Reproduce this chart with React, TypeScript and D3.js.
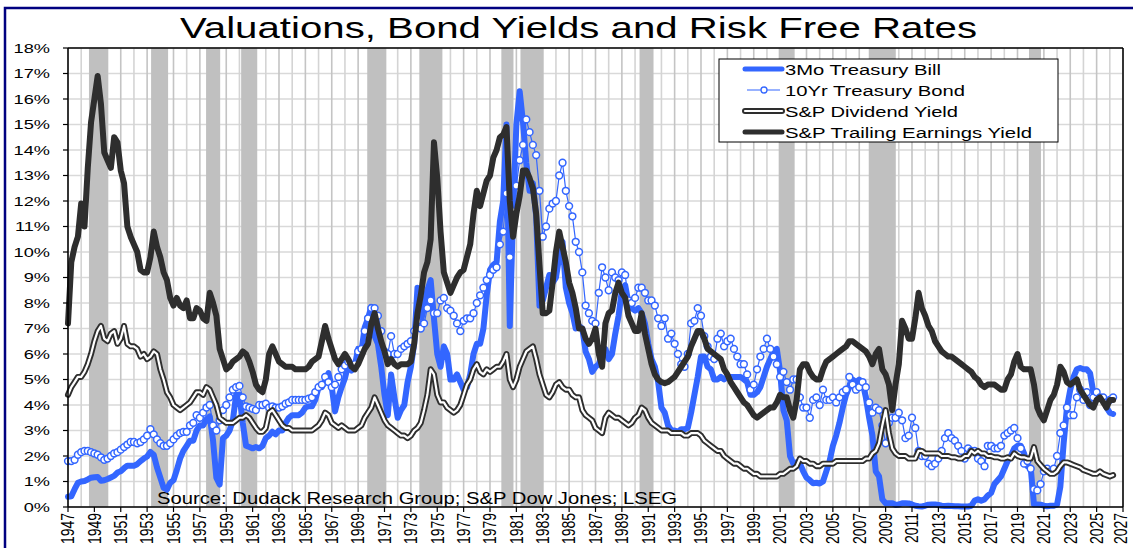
import React from 'react';
import * as d3 from 'd3';

// Quarterly observations starting 1947 Q1
const START_YEAR = 1947;
const STEP = 0.25;

const tbill3m = [
  0.40, 0.42, 0.70, 0.95, 1.00, 1.02, 1.08, 1.15, 1.17, 1.18, 1.03, 1.05,
  1.10, 1.16, 1.22, 1.35, 1.40, 1.52, 1.62, 1.62, 1.62, 1.68, 1.80, 1.90,
  1.98, 2.16, 2.05, 1.55, 1.15, 0.75, 0.68, 0.95, 1.05, 1.45, 1.90, 2.20,
  2.40, 2.60, 2.60, 3.00, 3.20, 3.20, 3.45, 3.55, 2.60, 1.15, 0.88, 2.70,
  2.80, 3.00, 3.40, 4.40, 4.40, 3.30, 2.40, 2.35, 2.30, 2.35, 2.30, 2.40,
  2.70, 2.80, 2.95, 2.85, 3.00, 3.00, 3.30, 3.50, 3.60, 3.60, 3.60, 3.70,
  3.90, 3.95, 3.95, 4.20, 4.70, 4.70, 4.95, 5.25, 4.70, 3.75, 4.30, 4.70,
  5.05, 5.60, 5.35, 5.55, 6.20, 6.10, 7.05, 7.40, 7.85, 6.70, 6.40, 5.50,
  4.40, 3.60, 5.20, 4.30, 3.50, 3.80, 4.00, 4.90, 5.50, 6.40, 8.60, 7.30,
  7.80, 8.50, 8.90, 7.40, 6.00, 5.50, 6.30, 6.00, 5.00, 5.00, 5.20, 4.90,
  4.60, 4.70, 5.20, 6.00, 6.40, 6.40, 7.00, 8.30, 9.30, 9.50, 9.60, 11.20,
  12.00, 15.00, 7.10, 11.50, 15.00, 16.30, 15.10, 13.50, 12.40, 12.70, 11.40, 7.90,
  8.10, 8.60, 9.10, 8.80, 9.00, 9.80, 10.40, 8.60, 8.00, 7.60, 7.00, 7.10,
  7.00, 6.10, 5.80, 5.30, 5.50, 5.60, 6.00, 6.20, 5.80, 6.00, 6.80, 7.50,
  8.50, 8.70, 8.00, 7.80, 7.70, 7.80, 7.60, 7.20, 6.40, 5.80, 5.50, 4.90,
  3.90, 3.70, 3.20, 3.00, 3.00, 2.95, 3.05, 3.05, 3.10, 3.70, 4.40, 5.10,
  5.90, 5.90, 5.50, 5.40, 5.00, 5.00, 5.10, 5.00, 5.10, 5.10, 5.10, 5.10,
  5.10, 5.00, 4.90, 4.40, 4.40, 4.50, 4.70, 5.10, 5.50, 5.80, 6.10, 6.20,
  5.30, 3.80, 3.40, 2.00, 1.70, 1.75, 1.70, 1.40, 1.15, 1.05, 0.93, 0.95,
  0.92, 1.00, 1.40, 1.80, 2.40, 2.80, 3.30, 3.90, 4.40, 4.70, 5.00, 4.90,
  5.00, 4.90, 4.30, 3.50, 2.80, 1.40, 1.20, 0.30, 0.15, 0.15, 0.15, 0.08,
  0.10, 0.15, 0.15, 0.14, 0.10, 0.05, 0.03, 0.02, 0.05, 0.09, 0.10, 0.10,
  0.08, 0.05, 0.04, 0.05, 0.04, 0.03, 0.03, 0.02, 0.02, 0.02, 0.05, 0.25,
  0.30, 0.25, 0.30, 0.45, 0.55, 0.90, 1.05, 1.20, 1.50, 1.80, 2.00, 2.30,
  2.40, 2.40, 2.10, 1.60, 1.55, 0.10, 0.10, 0.09, 0.05, 0.03, 0.05, 0.05,
  0.10, 0.80, 2.50, 3.90, 4.60, 5.10, 5.40, 5.45, 5.40, 5.40, 5.25, 4.50,
  4.30, 4.30, 4.30, 3.90, 3.70, 3.65,
];

const treasury10y = [
  1.80, 1.80, 1.85, 2.05, 2.15, 2.20, 2.20, 2.15, 2.10, 2.05, 1.95, 1.85,
  1.90, 2.00, 2.10, 2.15, 2.25, 2.35, 2.45, 2.55, 2.55, 2.50, 2.55, 2.65,
  2.80, 3.05, 2.85, 2.65, 2.50, 2.40, 2.40, 2.50, 2.65, 2.80, 2.90, 2.95,
  2.95, 3.20, 3.30, 3.60, 3.50, 3.70, 3.90, 4.00, 3.20, 3.00, 3.40, 3.80,
  4.00, 4.30, 4.60, 4.70, 4.75, 4.30, 3.95, 3.90, 3.85, 3.80, 4.00, 4.00,
  4.05, 3.90, 3.95, 3.90, 3.90, 3.95, 4.05, 4.10, 4.20, 4.20, 4.20, 4.20,
  4.20, 4.25, 4.30, 4.50, 4.70, 4.80, 5.10, 4.90, 4.70, 4.80, 5.10, 5.40,
  5.55, 5.70, 5.50, 5.60, 6.10, 6.20, 6.90, 7.40, 7.80, 7.80, 7.50, 6.90,
  6.10, 6.00, 6.70, 6.00, 6.00, 6.20, 6.30, 6.40, 6.50, 6.90, 7.30, 7.00,
  7.20, 7.80, 8.10, 7.60, 7.60, 8.10, 8.20, 7.80, 7.70, 7.50, 7.20, 6.90,
  7.30, 7.40, 7.40, 7.60, 8.00, 8.30, 8.60, 8.90, 9.10, 9.30, 9.40, 10.30,
  10.80, 12.30, 9.80, 11.60, 12.60, 13.60, 14.20, 15.20, 14.70, 14.20, 13.80, 12.40,
  10.60, 11.00, 11.70, 11.90, 12.00, 13.00, 13.50, 12.40, 11.80, 11.40, 10.40, 10.00,
  9.20, 7.90, 7.60, 7.30, 7.20, 8.40, 9.40, 9.00, 8.50, 9.20, 9.00, 8.90,
  9.20, 9.10, 8.10, 8.00, 8.20, 8.60, 8.60, 8.40, 8.10, 8.10, 7.90, 7.40,
  7.10, 7.40, 6.60, 6.80, 6.40, 6.00, 5.60, 5.50, 6.00, 7.20, 7.30, 7.80,
  7.50, 6.70, 6.30, 5.90, 5.80, 6.60, 6.80, 6.30, 6.50, 6.60, 6.20, 5.90,
  5.60, 5.60, 5.20, 4.60, 4.80, 5.40, 5.90, 6.20, 6.60, 6.20, 5.90, 5.60,
  5.10, 5.30, 4.90, 4.60, 5.00, 5.00, 4.30, 3.90, 3.90, 3.50, 4.20, 4.30,
  4.00, 4.60, 4.20, 4.20, 4.30, 4.10, 4.30, 4.50, 4.60, 5.10, 4.80, 4.60,
  4.70, 4.90, 4.70, 4.10, 3.70, 3.90, 3.80, 3.20, 2.50, 3.30, 3.50, 3.50,
  3.70, 3.40, 2.70, 2.80, 3.50, 3.10, 2.20, 2.00, 2.00, 1.70, 1.60, 1.70,
  1.90, 2.20, 2.70, 2.90, 2.70, 2.60, 2.40, 2.20, 1.90, 2.30, 2.20, 2.20,
  1.90, 1.80, 1.60, 2.40, 2.40, 2.30, 2.30, 2.40, 2.80, 2.90, 3.00, 3.10,
  2.70, 2.30, 1.70, 1.80, 1.50, 0.70, 0.65, 0.90, 1.40, 1.50, 1.40, 1.50,
  2.00, 2.90, 3.20, 3.90, 3.60, 3.60, 4.30, 4.60, 4.20, 4.50, 4.00, 4.30,
  4.50, 4.30, 4.30, 4.10, 4.20, 4.30,
];

const dividendYield = [
  4.40, 4.70, 4.90, 5.10, 5.10, 5.30, 5.60, 6.00, 6.50, 6.90, 7.10, 6.60,
  6.50, 6.80, 6.90, 6.40, 6.60, 7.10, 6.40, 6.30, 6.30, 6.20, 5.90, 6.00,
  5.80, 5.90, 6.10, 6.00, 5.40, 5.00, 4.50, 4.30, 4.00, 3.90, 3.80, 3.90,
  4.00, 4.10, 4.30, 4.50, 4.50, 4.40, 4.70, 4.60, 4.30, 4.00, 3.50, 3.40,
  3.30, 3.30, 3.30, 3.40, 3.50, 3.50, 3.60, 3.50, 3.30, 3.10, 2.95, 2.95,
  3.10, 3.70, 3.80, 3.60, 3.40, 3.20, 3.10, 3.10, 3.00, 3.00, 3.00, 3.00,
  3.00, 3.00, 3.00, 3.10, 3.20, 3.40, 3.70, 3.60, 3.30, 3.20, 3.10, 3.20,
  3.10, 3.00, 3.00, 3.00, 3.10, 3.20, 3.50, 3.70, 3.90, 4.30, 4.00, 3.70,
  3.40, 3.20, 3.10, 3.00, 2.90, 2.80, 2.80, 2.70, 2.80, 3.00, 3.10, 3.30,
  3.80, 4.40, 5.40, 5.20, 4.40, 4.10, 4.10, 3.90, 3.80, 3.70, 3.80, 4.00,
  4.40, 4.80, 5.00, 5.40, 5.60, 5.30, 5.20, 5.40, 5.30, 5.40, 5.50, 5.50,
  5.70, 6.00, 5.00, 4.70, 5.00, 5.50, 5.80, 6.10, 6.20, 6.30, 5.80, 5.20,
  4.80, 4.40, 4.30, 4.50, 4.80, 4.90, 4.70, 4.60, 4.60, 4.40, 4.30, 4.30,
  3.80, 3.60, 3.50, 3.40, 3.10, 3.00, 2.90, 3.50, 3.70, 3.60, 3.50, 3.50,
  3.40, 3.30, 3.20, 3.30, 3.50, 3.60, 3.90, 3.80, 3.50, 3.30, 3.20, 3.10,
  3.00, 3.00, 3.00, 2.90, 2.90, 2.90, 2.90, 2.80, 2.80, 2.90, 2.90, 2.90,
  2.80, 2.60, 2.50, 2.40, 2.30, 2.20, 2.20, 2.00, 1.90, 1.80, 1.70, 1.70,
  1.60, 1.50, 1.50, 1.40, 1.30, 1.30, 1.20, 1.20, 1.20, 1.20, 1.20, 1.20,
  1.30, 1.30, 1.40, 1.50, 1.50, 1.60, 1.90, 1.80, 1.80, 1.70, 1.70, 1.60,
  1.60, 1.70, 1.70, 1.70, 1.70, 1.80, 1.80, 1.80, 1.80, 1.80, 1.80, 1.80,
  1.80, 1.80, 1.90, 1.90, 2.10, 2.20, 2.50, 3.20, 3.80, 2.90, 2.30, 2.10,
  2.00, 2.00, 2.00, 1.90, 1.90, 1.90, 2.20, 2.20, 2.10, 2.10, 2.10, 2.10,
  2.10, 2.00, 2.00, 2.00, 1.95, 1.95, 1.90, 1.90, 2.00, 2.00, 2.20, 2.10,
  2.20, 2.10, 2.10, 2.00, 2.00, 1.95, 1.95, 1.90, 1.90, 1.95, 1.90, 2.10,
  2.00, 1.95, 1.95, 1.90, 1.90, 2.35, 1.80, 1.65, 1.50, 1.40, 1.30, 1.30,
  1.40, 1.60, 1.75, 1.75, 1.70, 1.65, 1.60, 1.55, 1.45, 1.40, 1.35, 1.30,
  1.30, 1.40, 1.30, 1.25, 1.20, 1.25,
];

const earningsYield = [
  7.20, 9.60, 10.20, 10.60, 11.90, 11.00, 13.30, 15.10, 16.00, 16.90, 15.80, 13.90,
  13.60, 13.30, 14.50, 14.30, 13.20, 12.70, 11.00, 10.60, 10.30, 10.00, 9.30, 9.20,
  9.20, 9.80, 10.80, 10.20, 9.80, 9.20, 8.90, 8.20, 7.90, 8.20, 7.90, 7.80,
  8.10, 7.40, 7.40, 7.80, 7.70, 7.40, 7.30, 8.40, 8.00, 7.50, 6.20, 5.80,
  5.40, 5.50, 5.70, 5.80, 5.90, 6.10, 6.00, 5.70, 5.30, 4.80, 4.60, 4.50,
  5.00, 6.00, 6.30, 6.00, 5.70, 5.60, 5.50, 5.50, 5.50, 5.40, 5.40, 5.40,
  5.40, 5.50, 5.70, 5.80, 5.90, 6.50, 7.10, 6.60, 6.20, 5.80, 5.60, 5.80,
  6.00, 5.80, 5.50, 5.40, 5.60, 5.90, 6.20, 6.40, 7.20, 7.60, 7.00, 6.50,
  6.10, 5.60, 5.80, 5.60, 5.50, 5.60, 5.60, 5.60, 5.70, 6.40, 7.60, 8.30,
  9.20, 9.60, 10.50, 14.30, 12.90, 10.80, 9.20, 8.80, 8.40, 8.70, 9.00, 9.20,
  9.30, 9.80, 10.30, 11.50, 12.40, 11.80, 12.30, 12.80, 13.00, 13.70, 14.00, 14.50,
  14.60, 14.90, 12.00, 10.60, 11.50, 12.20, 13.20, 13.20, 12.90, 12.50, 11.50, 9.50,
  7.60, 7.60, 7.70, 8.80, 10.00, 10.80, 10.20, 9.60, 8.80, 8.40, 7.80, 7.00,
  7.00, 6.60, 6.40, 6.60, 7.00, 6.00, 5.50, 7.20, 7.60, 7.70, 8.40, 8.80,
  8.40, 8.20, 7.50, 7.20, 6.90, 6.90, 7.60, 6.80, 6.20, 5.60, 5.20, 5.00,
  4.90, 4.85, 4.90, 5.00, 5.10, 5.30, 5.50, 5.70, 5.90, 6.30, 6.60, 6.90,
  6.90, 6.60, 6.20, 6.10, 6.00, 5.90, 5.80, 5.40, 5.20, 4.90, 4.70, 4.50,
  4.30, 4.10, 4.00, 3.80, 3.60, 3.50, 3.60, 3.70, 3.80, 3.90, 3.90, 4.10,
  4.40, 4.30, 4.30, 3.80, 3.50, 4.20, 5.40, 5.60, 5.60, 5.30, 5.10, 5.00,
  5.00, 5.40, 5.70, 5.80, 5.90, 6.00, 6.10, 6.20, 6.30, 6.50, 6.50, 6.40,
  6.30, 6.20, 6.10, 5.90, 5.60, 6.00, 6.20, 5.40, 5.20, 4.80, 3.80, 4.80,
  5.60, 7.30, 7.00, 6.60, 6.60, 7.40, 8.40, 7.80, 7.50, 7.10, 6.90, 6.50,
  6.30, 6.10, 6.00, 5.90, 5.90, 5.80, 5.70, 5.60, 5.50, 5.40, 5.30, 5.10,
  5.00, 4.80, 4.70, 4.80, 4.80, 4.80, 4.70, 4.60, 4.60, 5.00, 5.20, 5.70,
  6.00, 5.50, 5.40, 5.40, 5.40, 4.80, 3.90, 3.60, 3.40, 3.80, 4.20, 4.40,
  4.80, 5.50, 5.30, 4.90, 4.80, 4.90, 5.00, 4.60, 4.40, 4.20, 4.00, 3.90,
  4.20, 4.30, 4.10, 3.90, 4.20, 4.20,
];

// Recession shading (start, end) in fractional years
const recessions: [number, number][] = [
  [1948.59, 1950.04], [1953.3, 1954.59], [1957.47, 1958.54], [1960.13, 1961.35],
  [1969.69, 1971.14], [1973.64, 1975.39], [1979.86, 1980.78], [1981.31, 1983.05],
  [1990.34, 1991.4], [2000.89, 2002.1], [2007.72, 2009.77], [2019.87, 2020.78],
];

const yTickValues = [0, 1, 2, 3, 4, 5, 6, 7, 8, 9, 10, 11, 12, 13, 14, 15, 16, 17, 18];
const xLabelYears = [
  1947, 1949, 1951, 1953, 1955, 1957, 1959, 1961, 1963, 1965, 1967, 1969, 1971, 1973,
  1975, 1977, 1979, 1981, 1983, 1985, 1987, 1989, 1991, 1993, 1995, 1997, 1999, 2001,
  2003, 2005, 2007, 2009, 2011, 2013, 2015, 2017, 2019, 2021, 2023, 2025, 2027,
];

const legendItems = [
  { key: 'tb', label: '3Mo Treasury Bill', width: 156 },
  { key: 't10', label: '10Yr Treasury Bond', width: 180 },
  { key: 'div', label: 'S&P Dividend Yield', width: 173 },
  { key: 'ey', label: 'S&P Trailing Earnings Yield', width: 247 },
];

const TITLE = 'Valuations, Bond Yields and Risk Free Rates';
const SOURCE = 'Source: Dudack Research Group; S&P Dow Jones; LSEG';

const BLUE = '#3366ff';
const DARK = '#2e2e2e';
const FONT = "Arial, 'Liberation Sans', sans-serif";

export default function App() {
  const W = 1133;
  const H = 548;
  const x = d3.scaleLinear().domain([1947, 2027]).range([68, 1123]);
  const y = d3.scaleLinear().domain([0, 18]).range([507, 48]);

  const pts = (arr: number[]) => arr.map((v, i) => [START_YEAR + i * STEP, v] as [number, number]);
  const line = d3.line<[number, number]>().x(d => x(d[0])).y(d => y(d[1]));

  const tb = pts(tbill3m);
  const t10 = pts(treasury10y);
  const dv = pts(dividendYield);
  const ey = pts(earningsYield);

  const gridYears = d3.range(1947, 2028);
  const [x0, x1] = x.range();
  const [yb, yt] = y.range();

  const legendY = [69, 90, 111, 132];

  return (
    <svg width={W} height={H} style={{ position: 'absolute', left: 0, top: 0, background: '#fff' }}
      fontFamily={FONT}>
      <rect x={0} y={0} width={W} height={H} fill="#fff" />
      {/* outer frame */}
      <rect x={5} y={8} width={1140} height={600} fill="none" stroke="#000080" strokeWidth={2.5} />
      {/* title */}
      <text x={180} y={38} fontSize={29} textLength={797} lengthAdjust="spacingAndGlyphs" fill="#000">{TITLE}</text>

      {/* horizontal grid */}
      {yTickValues.map(v => (
        <line key={'h' + v} x1={x0} x2={x1} y1={y(v)} y2={y(v)} stroke="#d9d9d9" strokeWidth={1.5} />
      ))}
      {/* vertical grid */}
      {gridYears.map(yr => (
        <line key={'v' + yr} x1={x(yr)} x2={x(yr)} y1={yt} y2={yb} stroke={yr % 2 === 1 ? '#c4c4c4' : '#d4d4d4'} strokeWidth={1.6} />
      ))}
      {/* recessions */}
      {recessions.map(([a, b], i) => (
        <rect key={'r' + i} x={x(a)} y={yt} width={x(b) - x(a)} height={yb - yt} fill="#c0c0c0" />
      ))}

      {/* source */}
      <text x={157} y={504} fontSize={16} textLength={520} lengthAdjust="spacingAndGlyphs" fill="#000">{SOURCE}</text>

      {/* series */}
      <path d={line(tb) || ''} fill="none" stroke={BLUE} strokeWidth={6} strokeLinejoin="round" strokeLinecap="round" />
      <path d={line(t10) || ''} fill="none" stroke={BLUE} strokeWidth={1.2} />
      {t10.map((d, i) => (
        <circle key={'c' + i} cx={x(d[0])} cy={y(d[1])} r={3.4} fill="#fff" stroke={BLUE} strokeWidth={1.5} />
      ))}
      <path d={line(dv) || ''} fill="none" stroke={DARK} strokeWidth={6} strokeLinejoin="round" strokeLinecap="round" />
      <path d={line(dv) || ''} fill="none" stroke="#fff" strokeWidth={2.2} strokeLinejoin="round" strokeLinecap="round" />
      <path d={line(ey) || ''} fill="none" stroke={DARK} strokeWidth={6} strokeLinejoin="round" strokeLinecap="round" />

      {/* axes frame */}
      <line x1={x0} x2={x1} y1={yt} y2={yt} stroke="#000" strokeWidth={1.5} />
      <line x1={x1} x2={x1} y1={yt} y2={yb} stroke="#000" strokeWidth={1.5} />
      <line x1={x0} x2={x0} y1={yt} y2={yb} stroke="#000" strokeWidth={1.5} />
      <line x1={x0} x2={x1} y1={yb} y2={yb} stroke="#000" strokeWidth={1.5} />

      {/* y ticks & labels */}
      {yTickValues.map(v => (
        <g key={'yt' + v}>
          <line x1={x0 - 5} x2={x0} y1={y(v)} y2={y(v)} stroke="#000" strokeWidth={1.2} />
          <g transform={`translate(50,${y(v)}) scale(1.4,1)`}>
            <text x={0} y={0} dy="0.36em" fontSize={13} textAnchor="end" fill="#000">{v + '%'}</text>
          </g>
        </g>
      ))}

      {/* x ticks & labels */}
      {xLabelYears.map(yr => (
        <g key={'xt' + yr}>
          <line x1={x(yr)} x2={x(yr)} y1={yb} y2={yb + 5} stroke="#000" strokeWidth={1.2} />
          <g transform={`translate(${x(yr) - (yr === 2027 ? 2 : 0)},513) scale(1.25,1) rotate(-90)`}>
            <text x={0} y={0} dy="0.36em" fontSize={14} textAnchor="end" fill="#000">{String(yr)}</text>
          </g>
        </g>
      ))}

      {/* legend */}
      <rect x={719} y={59} width={339} height={83} fill="#fff" stroke="#000" strokeWidth={1} />
      {legendItems.map((it, i) => {
        const ly = legendY[i];
        return (
          <g key={it.key}>
            {it.key === 'tb' && <line x1={745} x2={782} y1={ly} y2={ly} stroke={BLUE} strokeWidth={5} strokeLinecap="round" />}
            {it.key === 't10' && (
              <g>
                <line x1={747} x2={780} y1={ly} y2={ly} stroke={BLUE} strokeWidth={1.2} />
                <circle cx={764} cy={ly} r={3} fill="#fff" stroke={BLUE} strokeWidth={1.3} />
              </g>
            )}
            {it.key === 'div' && (
              <g>
                <line x1={745} x2={782} y1={ly} y2={ly} stroke={DARK} strokeWidth={6} strokeLinecap="round" />
                <line x1={745} x2={782} y1={ly} y2={ly} stroke="#fff" strokeWidth={2.2} strokeLinecap="round" />
              </g>
            )}
            {it.key === 'ey' && <line x1={745} x2={782} y1={ly} y2={ly} stroke={DARK} strokeWidth={5} strokeLinecap="round" />}
            <text x={785} y={ly} dy="0.36em" fontSize={15.5} textLength={it.width}
              lengthAdjust="spacingAndGlyphs" fill="#000">{it.label}</text>
          </g>
        );
      })}
    </svg>
  );
}
